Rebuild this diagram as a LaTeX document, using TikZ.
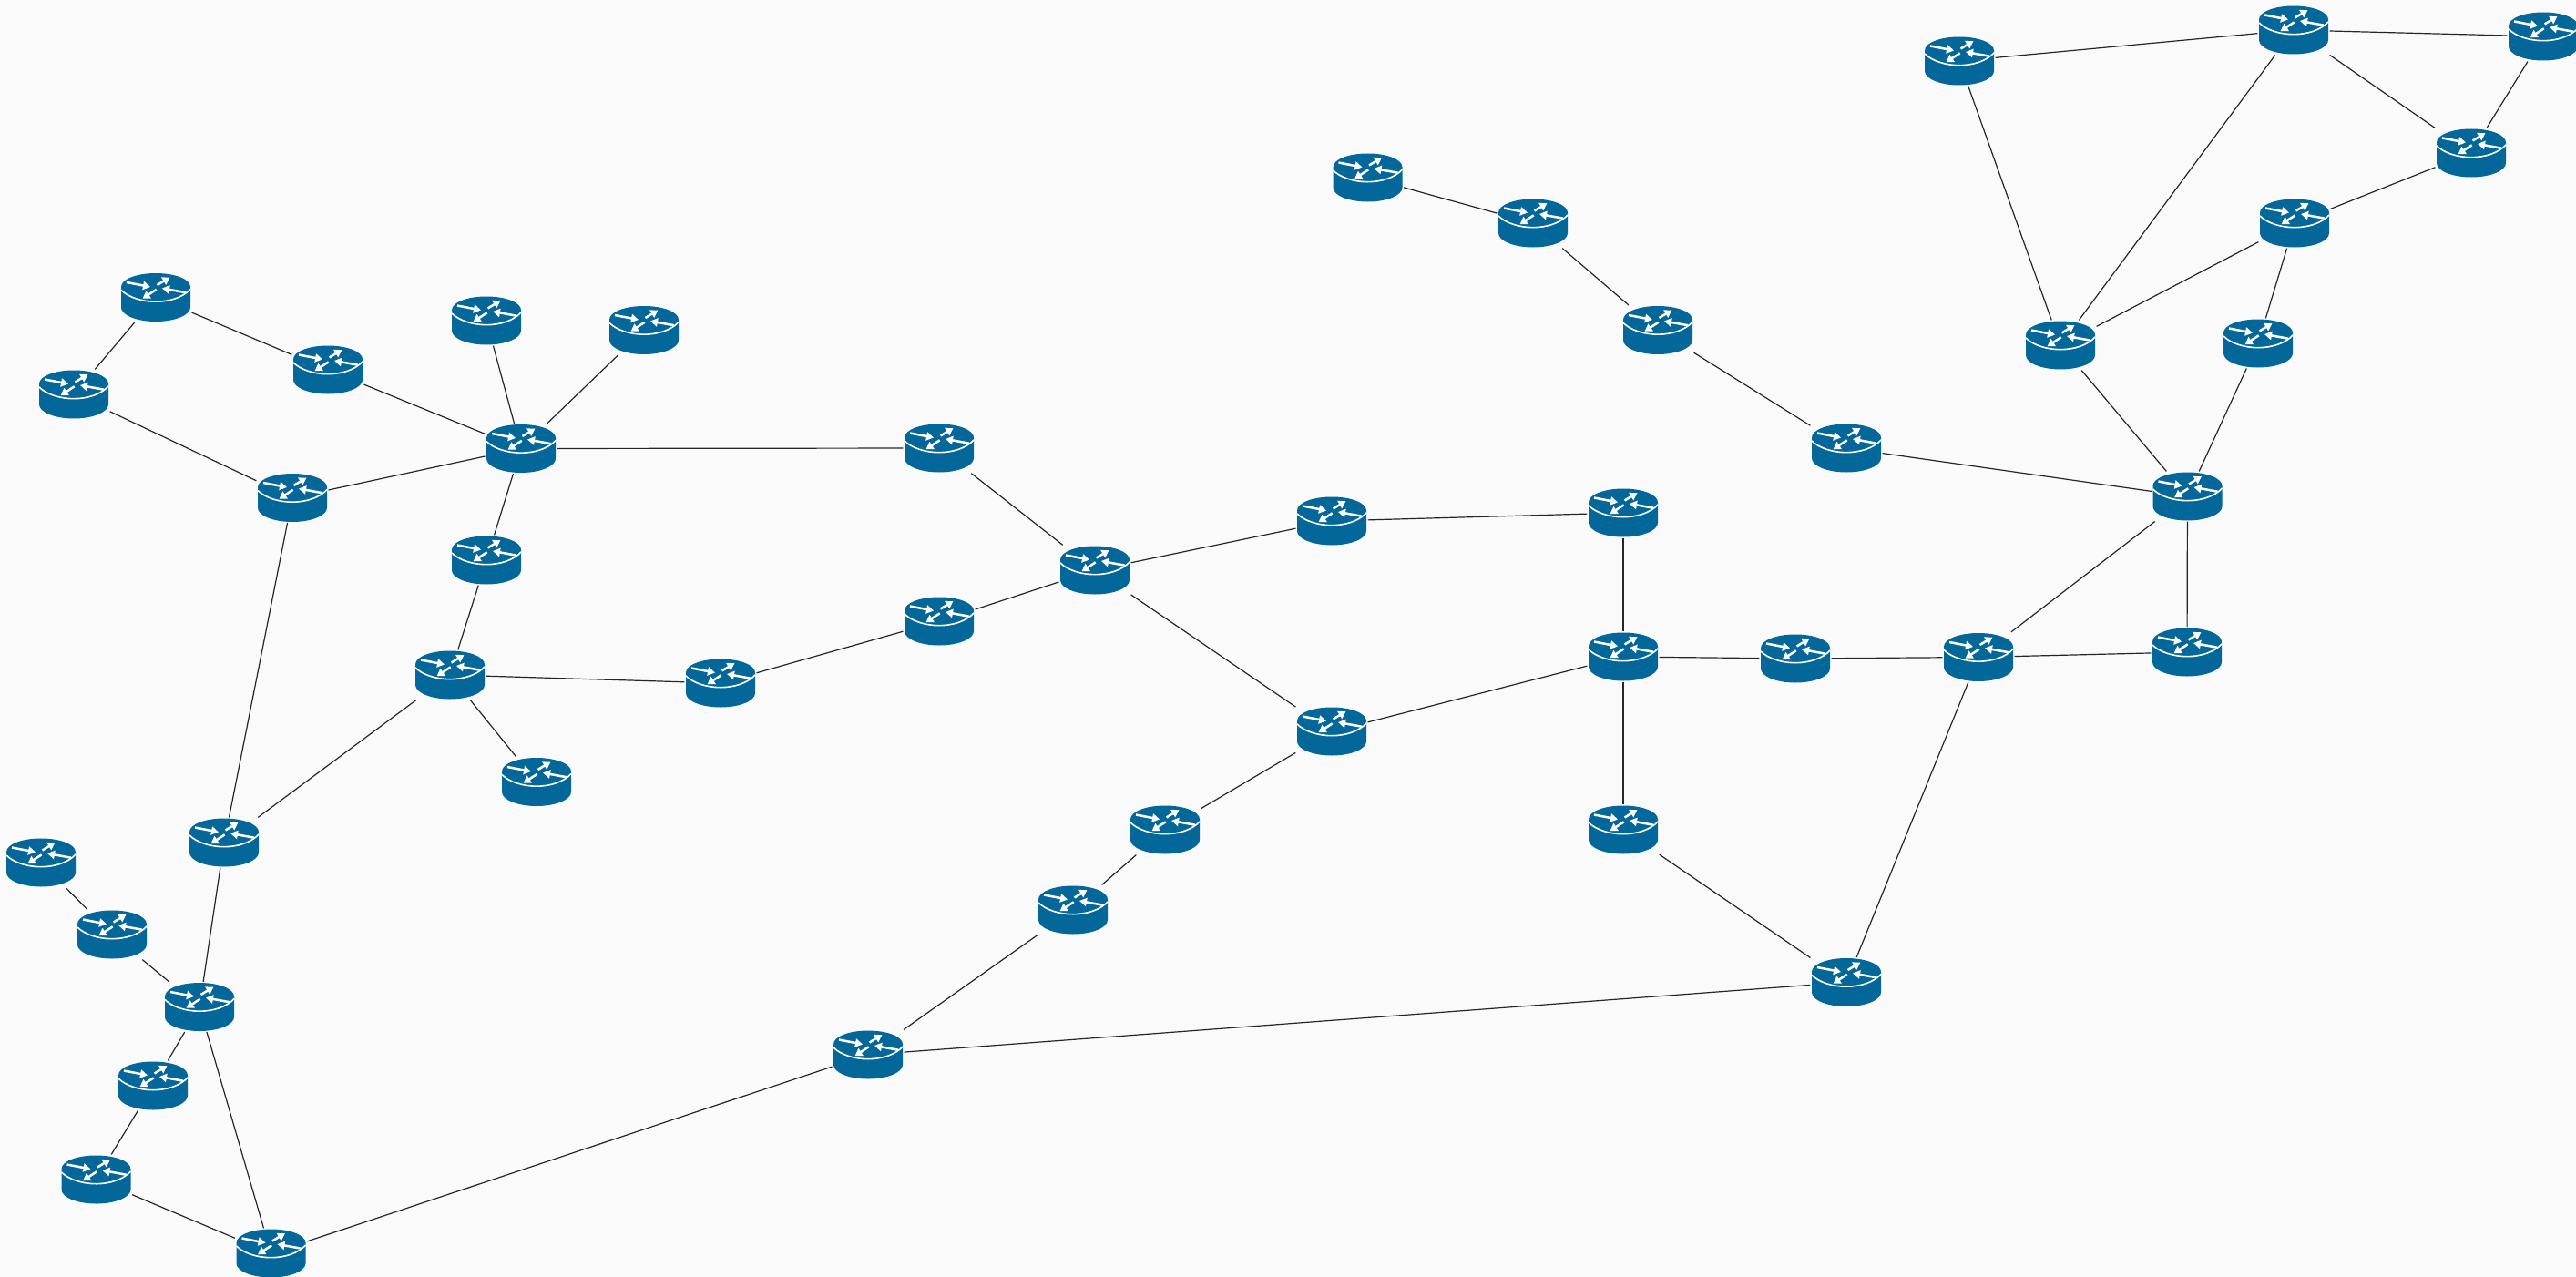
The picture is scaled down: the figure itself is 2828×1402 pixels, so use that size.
\documentclass[tikz,border=0pt]{standalone}
\usepackage{xcolor}
\usepackage{tikz}
\usetikzlibrary{arrows.meta}
\definecolor{routerblue}{HTML}{03679A}
\definecolor{paper}{HTML}{FAFAFA}

\begin{document}
\begin{tikzpicture}[x=0.5pt,y=-0.5pt,line width=0.6pt,
      face arrow/.style={white,draw,line width=1.25pt,-{Triangle[length=4pt,width=4.6pt]}},
      router node/.style={rectangle,inner sep=0pt,minimum width=39pt,minimum height=27pt,
        path picture={
          \begin{scope}[shift={(path picture bounding box.center)}]
            \fill[routerblue] (-38,-11.5) -- (-38,11) .. controls (-38,19.5) and (-21,26.5) .. (0,26.5)
              .. controls (21,26.5) and (38,19.5) .. (38,11) -- (38,-11.5)
              .. controls (38,-20) and (21,-26.5) .. (0,-26.5)
              .. controls (-21,-26.5) and (-38,-20) .. (-38,-11.5) -- cycle;
            \draw[white,line width=0.8pt] (-38,-8) .. controls (-30,0) and (-15,4.7) .. (0,4.7)
              .. controls (15,4.7) and (30,0) .. (38,-9);
            \draw[face arrow] (-32,-16.5) -- (-6,-11.5);
            \draw[face arrow] (1.5,-13.5) -- (15.5,-22);
            \draw[face arrow] (33,-5.3) -- (7,-10);
            \draw[face arrow] (0.7,-8.7) -- (-14.5,1.3);
          \end{scope}
        }}]

    \path[use as bounding box,fill=paper] (0,0) rectangle (2828,1402);

    \node[router node] (1) at (2151,67) {};
    \node[router node] (2) at (2518,33) {};
    \node[router node] (3) at (2792,40) {};
    \node[router node] (4) at (2713,168) {};
    \node[router node] (5) at (2519,245) {};
    \node[router node] (6) at (2479,377) {};
    \node[router node] (7) at (2262,379) {};
    \node[router node] (8) at (1501.5,195) {};
    \node[router node] (9) at (1683,245) {};
    \node[router node] (10) at (1820,362.5) {};
    \node[router node] (11) at (2027,492) {};
    \node[router node] (12) at (2401.5,545) {};
    \node[router node] (13) at (1782,563) {};
    \node[router node] (14) at (1462,572) {};
    \node[router node] (15) at (1202,626) {};
    \node[router node] (16) at (1031,682) {};
    \node[router node] (17) at (1031,492) {};
    \node[router node] (18) at (572,492.5) {};
    \node[router node] (19) at (534,352) {};
    \node[router node] (20) at (707,362.5) {};
    \node[router node] (21) at (360,406) {};
    \node[router node] (22) at (171,326.5) {};
    \node[router node] (23) at (81,433) {};
    \node[router node] (24) at (321,546.5) {};
    \node[router node] (25) at (534,615) {};
    \node[router node] (26) at (494,741) {};
    \node[router node] (27) at (791,750) {};
    \node[router node] (28) at (589,858.5) {};
    \node[router node] (29) at (246,925) {};
    \node[router node] (30) at (45,947) {};
    \node[router node] (31) at (123,1026) {};
    \node[router node] (32) at (219,1105.5) {};
    \node[router node] (33) at (168,1192) {};
    \node[router node] (34) at (105.5,1295) {};
    \node[router node] (35) at (297.5,1376) {};
    \node[router node] (36) at (953,1158) {};
    \node[router node] (37) at (1178,999) {};
    \node[router node] (38) at (1279,911) {};
    \node[router node] (39) at (1462,803) {};
    \node[router node] (40) at (1782,721) {};
    \node[router node] (41) at (1971,723) {};
    \node[router node] (42) at (2172,721.5) {};
    \node[router node] (43) at (2401,716) {};
    \node[router node] (44) at (1782,911) {};
    \node[router node] (45) at (2027,1078.5) {};

    \path[every edge/.append style={black!85}]
        (1) edge (2)
        (2) edge (3)
        (3) edge (4)
        (2) edge (4)
        (4) edge (5)
        (5) edge (7)
        (5) edge (6)
        (6) edge (12)
        (7) edge (12)
        (2) edge (7)
        (1) edge (7)
        (8) edge (9)
        (9) edge (10)
        (10) edge (11)
        (11) edge (12)
        (12) edge (43)
        (12) edge (42)
        (42) edge (43)
        (41) edge (42)
        (40) edge (41)
        (13) edge (40)
        (14) edge (13)
        (15) edge (14)
        (15) edge (16)
        (15) edge (17)
        (17) edge (18)
        (15) edge (39)
        (39) edge (40)
        (40) edge (44)
        (44) edge (45)
        (42) edge (45)
        (45) edge (36)
        (36) edge (37)
        (37) edge (38)
        (38) edge (39)
        (36) edge (35)
        (35) edge (32)
        (35) edge (34)
        (34) edge (33)
        (33) edge (32)
        (32) edge (31)
        (31) edge (30)
        (32) edge (29)
        (29) edge (24)
        (29) edge (26)
        (26) edge (25)
        (25) edge (18)
        (26) edge (28)
        (26) edge (27)
        (27) edge (16)
        (18) edge (19)
        (18) edge (20)
        (18) edge (21)
        (18) edge (24)
        (21) edge (22)
        (22) edge (23)
        (23) edge (24)
    ;
\end{tikzpicture}
\end{document}
